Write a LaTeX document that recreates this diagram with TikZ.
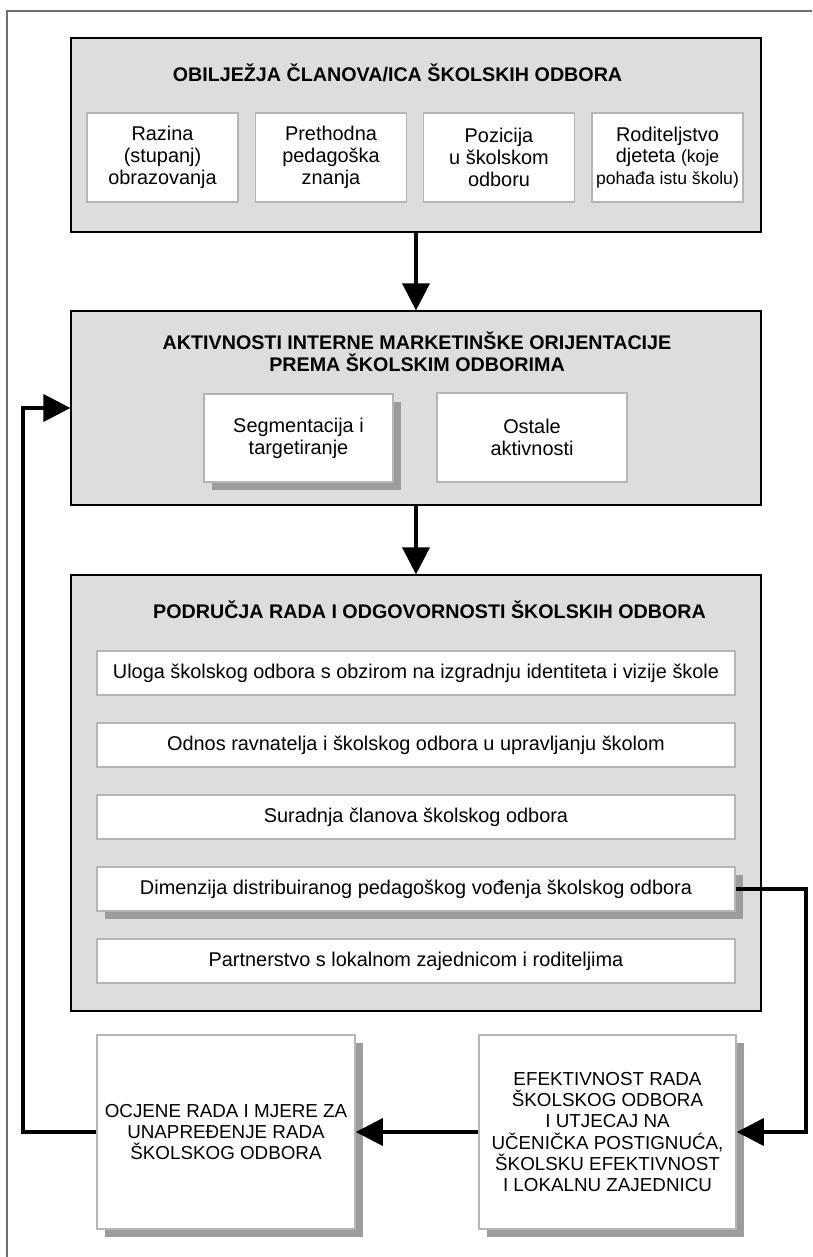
\documentclass[tikz,border=0pt]{standalone}
\usepackage{fontspec}
\setmainfont{Liberation Sans}
\usetikzlibrary{arrows.meta,shadows}
\definecolor{boxgray}{RGB}{220,221,223}
\definecolor{shadowgray}{RGB}{155,156,158}
\definecolor{itemline}{RGB}{180,181,183}
\definecolor{framegray}{RGB}{110,110,110}
\newcommand{\bodyfont}{\fontsize{19.9}{21.8}\selectfont}
\newcommand{\smallbodyfont}{\fontsize{17.6}{21.8}\selectfont}
\newcommand{\headfont}{\fontsize{19.7}{22}\selectfont\bfseries}
\newcommand{\capsfont}{\fontsize{18.8}{21.2}\selectfont}

\begin{document}
\begin{tikzpicture}[x=1pt, y=-1pt,
  bigbox/.style={draw=black, line width=1.2pt, fill=boxgray, minimum width=690pt, minimum height=194pt, inner sep=0pt},
  headtext/.style={font=\headfont, align=center, inner sep=0pt},
  itembox/.style={draw=itemline, line width=1.5pt, fill=white, inner sep=0pt, align=center, font=\bodyfont},
  rowbox/.style={itembox, minimum width=638pt, minimum height=44pt},
  shadowed/.style={drop shadow={shadow xshift=8pt, shadow yshift=-8pt, fill=shadowgray, opacity=1}},
  flow/.style={line width=3.5pt, -{Triangle[length=27pt, width=27pt]}}]
\useasboundingbox (0,0) rectangle (812,1257);
% outer frame
\draw [framegray, line width=1.2pt] (7,1257) -- (7,11) -- (812,11);

% obiljezja clanova
\node [bigbox] (obiljezja) at (416,135) {};
\node [headtext, anchor=base] (obiljezjatitle) at (397.5,82) {OBILJEŽJA ČLANOVA/ICA ŠKOLSKIH ODBORA};
\node [itembox, minimum width=151pt, minimum height=89pt] (razina) at (162.5,157.5) {Razina\\(stupanj)\\obrazovanja};
\node [itembox, minimum width=151pt, minimum height=89pt] (prethodna) at (331,157.5) {Prethodna\\pedagoška\\znanja};
\node [itembox, minimum width=151pt, minimum height=89pt] (pozicija) at (499,157.5) {Pozicija\\u školskom\\odboru};
\node [itembox, minimum width=151pt, minimum height=89pt] (roditeljstvo) at (667.5,157.5) {Roditeljstvo\\djeteta {\smallbodyfont(koje}\\{\smallbodyfont pohađa istu školu)}};

% aktivnosti
\node [bigbox] (aktivnosti) at (416,408) {};
\node [headtext, anchor=base] (aktivnostititle) at (417,371) {AKTIVNOSTI INTERNE MARKETINŠKE ORIJENTACIJE\\PREMA ŠKOLSKIM ODBORIMA};
\node [itembox, shadowed, minimum width=189pt, minimum height=88pt] (segmentacija) at (298.5,438) {Segmentacija i\\targetiranje};
\node [itembox, minimum width=190pt, minimum height=89pt] (ostale) at (532,437.5) {Ostale\\aktivnosti};

% podrucja rada
\node [bigbox, minimum height=436pt] (podrucja) at (416,793) {};
\node [headtext, anchor=base] (podrucjatitle) at (429.5,618) {PODRUČJA RADA I ODGOVORNOSTI ŠKOLSKIH ODBORA};
\node [rowbox] (uloga) at (416,673) {Uloga školskog odbora s obzirom na izgradnju identiteta i vizije škole};
\node [rowbox] (odnos) at (416,745) {Odnos ravnatelja i školskog odbora u upravljanju školom};
\node [rowbox] (suradnja) at (416,817) {Suradnja članova školskog odbora};
\node [rowbox, shadowed] (dimenzija) at (416,889) {Dimenzija distribuiranog pedagoškog vođenja školskog odbora};
\node [rowbox] (partnerstvo) at (416,961) {Partnerstvo s lokalnom zajednicom i roditeljima};

% ishodi
\node [itembox, shadowed, font=\capsfont, minimum width=258pt, minimum height=194pt] (ocjene) at (226,1132) {OCJENE RADA I MJERE ZA\\UNAPREĐENJE RADA\\ŠKOLSKOG ODBORA};
\node [itembox, shadowed, font=\capsfont, minimum width=257pt, minimum height=194pt] (efektivnost) at (607.5,1132) {EFEKTIVNOST RADA\\ŠKOLSKOG ODBORA\\I UTJECAJ NA\\UČENIČKA POSTIGNUĆA,\\ŠKOLSKU EFEKTIVNOST\\I LOKALNU ZAJEDNICU};

% veze
\coordinate (leftrail) at (23,0);
\coordinate (rightrail) at (806,0);
\draw [flow] (obiljezja.south) -- (aktivnosti.north);
\draw [flow] (aktivnosti.south) -- (podrucja.north);
\draw [flow] (dimenzija.east) -- (dimenzija.east -| rightrail) |- (efektivnost.east);
\draw [flow] (efektivnost.west) -- (ocjene.east);
\draw [flow] (ocjene.west) -- (ocjene.west -| leftrail) |- (aktivnosti.west);

\end{tikzpicture}
\end{document}
